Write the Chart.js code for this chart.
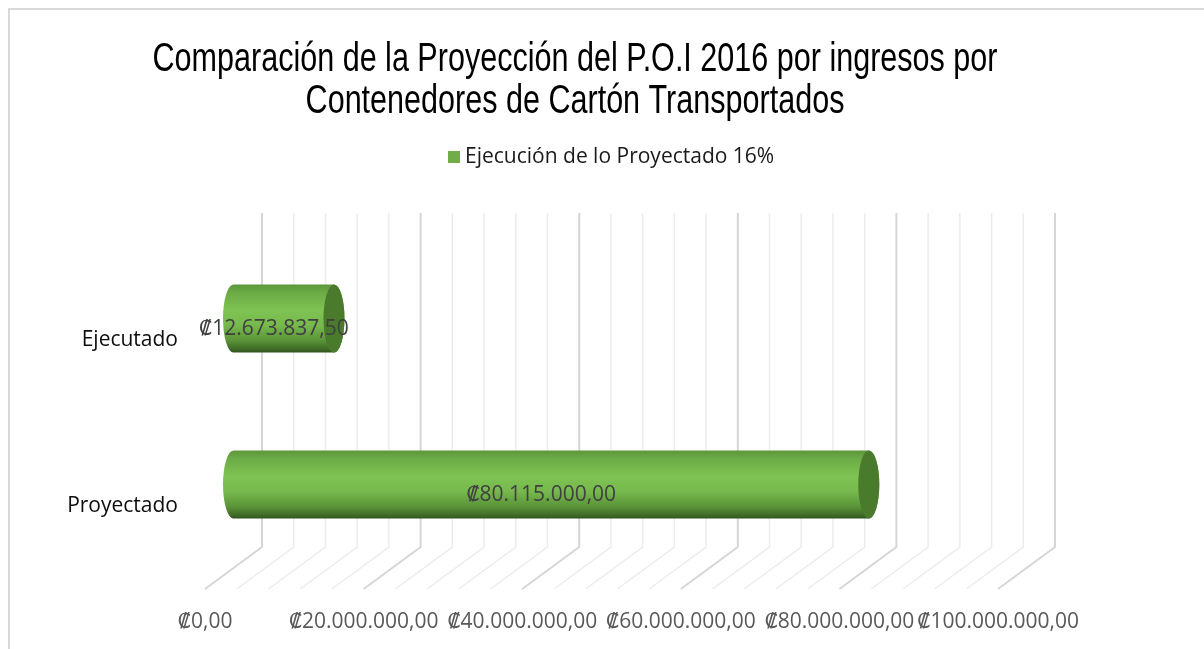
<!DOCTYPE html>
<html>
<head>
<meta charset="utf-8">
<script src="https://cdn.jsdelivr.net/npm/chart.js@4"></script>
<style>
  body { margin: 0; background: #fff; }
  #frame { position: absolute; left: 8px; top: 8px; width: 1400px; height: 900px;
           border-left: 2px solid #d9d9d9; border-top: 2px solid #d9d9d9; }
  #chart { position: absolute; left: 0; top: 0; }
</style>
</head>
<body>
<div id="frame"></div>
<canvas id="chart" width="1204" height="649"></canvas>
<script>
const categories = ['Ejecutado', 'Proyectado'];
const values = [12673837.5, 80115000];
const seriesName = 'Ejecución de lo Proyectado 16%';
const titleLines = ['Comparación de la Proyección del P.O.I 2016 por ingresos por', 'Contenedores de Cartón Transportados'];
const tickValues = [0, 20000000, 40000000, 60000000, 80000000, 100000000];

const FONT = '"Open Sans", "DejaVu Sans", sans-serif';
const DX = 57, DY = 43; // depth of the 3d floor, back plane vs front plane

function colones(v) {
  const parts = v.toFixed(2).split('.');
  const int = parts[0].replace(/\B(?=(\d{3})+(?!\d))/g, '.');
  return '₡' + int + ',' + parts[1];
}

const threeD = {
  id: 'threeD',
  beforeDatasetsDraw(chart) {
    const { ctx, chartArea: a, scales: { x } } = chart;
    ctx.save();
    for (let v = 0; v <= 100000000; v += 4000000) {
      const xf = x.getPixelForValue(v);
      const major = v % 20000000 === 0;
      ctx.strokeStyle = major ? '#d6d6d6' : '#ececec';
      ctx.lineWidth = major ? 2 : 1.5;
      ctx.beginPath();
      ctx.moveTo(xf + DX, a.top - DY - 1);
      ctx.lineTo(xf + DX, a.bottom - DY + 1);
      ctx.lineTo(xf, a.bottom);
      ctx.stroke();
    }
    ctx.restore();
  },
  beforeDatasetDraw(chart, args) {
    const { ctx } = chart;
    const meta = args.meta;
    meta.data.forEach(bar => {
      const xl = bar.base + DX / 2, xr = bar.x + DX / 2;
      const yc = bar.y - DY / 2, h = bar.height, ry = h / 2, rx = 10.5;
      const top = yc - ry, bot = yc + ry;
      const g = ctx.createLinearGradient(0, top, 0, bot);
      g.addColorStop(0, '#5c963a');
      g.addColorStop(0.12, '#6cab45');
      g.addColorStop(0.38, '#7ec353');
      g.addColorStop(0.6, '#77b94d');
      g.addColorStop(0.82, '#5b9539');
      g.addColorStop(0.95, '#3f6b27');
      g.addColorStop(1, '#2f531d');
      ctx.save();
      ctx.beginPath();
      ctx.moveTo(xl, top);
      ctx.lineTo(xr, top);
      ctx.ellipse(xr, yc, rx, ry, 0, -Math.PI / 2, Math.PI / 2);
      ctx.lineTo(xl, bot);
      ctx.ellipse(xl, yc, rx, ry, 0, Math.PI / 2, Math.PI * 1.5);
      ctx.closePath();
      ctx.fillStyle = g;
      ctx.fill();
      ctx.beginPath();
      ctx.ellipse(xr, yc, rx, ry, 0, 0, Math.PI * 2);
      ctx.fillStyle = '#4a7a2c';
      ctx.fill();
      ctx.restore();
    });
    return false;
  },
  afterDatasetsDraw(chart) {
    const { ctx } = chart;
    const meta = chart.getDatasetMeta(0);
    ctx.save();
    ctx.font = '21px ' + FONT;
    ctx.fillStyle = '#404040';
    ctx.textAlign = 'center';
    ctx.textBaseline = 'middle';
    meta.data.forEach((bar, i) => {
      const cx = (bar.base + bar.x) / 2 + DX / 2 - 10;
      const cy = bar.y - DY / 2 + 11;
      ctx.fillText(colones(values[i]), cx, cy);
    });
    ctx.restore();
  },
  afterDraw(chart) {
    const { ctx } = chart;
    ctx.save();
    // title, condensed like the original
    ctx.font = '40px "Liberation Sans Narrow", "Liberation Sans", Arial, sans-serif';
    ctx.fillStyle = '#000';
    ctx.textBaseline = 'alphabetic';
    ctx.textAlign = 'center';
    const sx = 845 / ctx.measureText(titleLines[0]).width;
    titleLines.forEach((t, i) => {
      ctx.save();
      ctx.translate(575, 71 + i * 41.5);
      ctx.scale(sx, 1);
      ctx.fillText(t, 0, 0);
      ctx.restore();
    });
    // legend
    ctx.fillStyle = chart.data.datasets[0].backgroundColor;
    ctx.fillRect(448, 151, 12, 12);
    ctx.font = '21px ' + FONT;
    ctx.fillStyle = '#1a1a1a';
    ctx.textAlign = 'left';
    ctx.textBaseline = 'middle';
    ctx.fillText(seriesName, 465, 157);
    ctx.restore();
  }
};

new Chart(document.getElementById('chart'), {
  type: 'bar',
  data: {
    labels: categories,
    datasets: [{
      label: seriesName,
      data: values,
      backgroundColor: '#70ad47',
      categoryPercentage: 0.41,
      barPercentage: 1
    }]
  },
  options: {
    indexAxis: 'y',
    responsive: false,
    animation: false,
    devicePixelRatio: 1,
    layout: { padding: { top: 257, right: 206, bottom: 0, left: 0 } },
    scales: {
      x: {
        min: 0,
        max: 100000000,
        afterBuildTicks: (scale) => { scale.ticks = tickValues.map(v => ({ value: v })); },
        afterFit: (scale) => { scale.height = 60; },
        grid: { display: false, drawTicks: false },
        border: { display: false },
        ticks: {
          autoSkip: false,
          maxRotation: 0,
          padding: 20,
          color: '#595959',
          font: { family: FONT, size: 21 },
          callback: (v) => colones(v)
        }
      },
      y: {
        afterFit: (scale) => { scale.width = 205; },
        grid: { display: false, drawTicks: false },
        border: { display: false },
        ticks: {
          padding: 27,
          color: '#0d0d0d',
          font: { family: FONT, size: 21 }
        }
      }
    },
    plugins: {
      legend: { display: false },
      tooltip: { enabled: false }
    }
  },
  plugins: [threeD]
});
</script>
</body>
</html>
